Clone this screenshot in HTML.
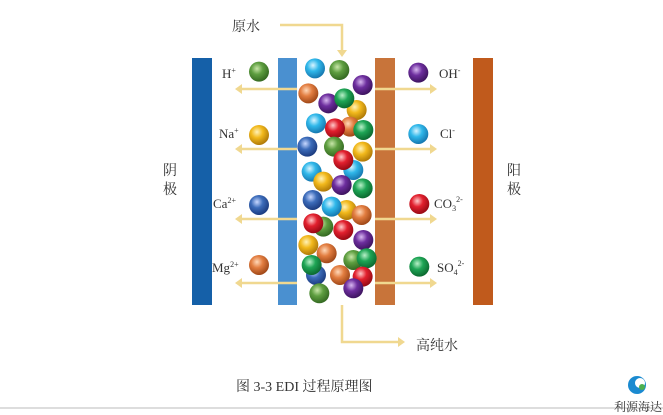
<!DOCTYPE html>
<html><head><meta charset="utf-8"><style>
body{margin:0;background:#fff;}
svg{display:block;}
text{font-family:"Liberation Serif","Noto Serif CJK SC",serif;fill:#333;}
</style></head><body>
<svg width="663" height="415" viewBox="0 0 663 415" xmlns="http://www.w3.org/2000/svg">
<defs>
<radialGradient id="cy" cx="40%" cy="35%" r="65%"><stop offset="0" stop-color="#d8f4ff"/><stop offset="0.45" stop-color="#30b8ea"/><stop offset="1" stop-color="#1678b0"/></radialGradient>
<radialGradient id="gr" cx="40%" cy="35%" r="65%"><stop offset="0" stop-color="#c8e6a8"/><stop offset="0.45" stop-color="#5e9e40"/><stop offset="1" stop-color="#356a22"/></radialGradient>
<radialGradient id="bg" cx="40%" cy="35%" r="65%"><stop offset="0" stop-color="#b8f0c8"/><stop offset="0.45" stop-color="#1ea555"/><stop offset="1" stop-color="#0c6a30"/></radialGradient>
<radialGradient id="pu" cx="40%" cy="35%" r="65%"><stop offset="0" stop-color="#d8b8f0"/><stop offset="0.45" stop-color="#6d2e9e"/><stop offset="1" stop-color="#3e1460"/></radialGradient>
<radialGradient id="or" cx="40%" cy="35%" r="65%"><stop offset="0" stop-color="#ffd8b8"/><stop offset="0.45" stop-color="#e27d40"/><stop offset="1" stop-color="#a04818"/></radialGradient>
<radialGradient id="ye" cx="40%" cy="35%" r="65%"><stop offset="0" stop-color="#fff2b8"/><stop offset="0.45" stop-color="#f2b91c"/><stop offset="1" stop-color="#b07a08"/></radialGradient>
<radialGradient id="re" cx="40%" cy="35%" r="65%"><stop offset="0" stop-color="#ffc8c8"/><stop offset="0.45" stop-color="#e2202e"/><stop offset="1" stop-color="#980a14"/></radialGradient>
<radialGradient id="bl" cx="40%" cy="35%" r="65%"><stop offset="0" stop-color="#c8d8ff"/><stop offset="0.45" stop-color="#3c6cba"/><stop offset="1" stop-color="#1c3c80"/></radialGradient>
</defs>
<!-- bars -->
<rect x="192" y="58" width="20" height="247" fill="#1560a8"/>
<rect x="278" y="58" width="19" height="247" fill="#4a90d0"/>
<rect x="375" y="58" width="20" height="247" fill="#c8743a"/>
<rect x="473" y="58" width="20" height="247" fill="#c05a1c"/>
<!-- arrows -->
<g stroke="#f0d890" stroke-width="2.5" fill="none">
<path d="M280 25 H342 V52"/>
<path d="M342 305 V342 H400"/>
<path d="M297 89 H240 M297 149 H240 M297 219 H240 M297 283 H240"/>
<path d="M375 89 H432 M375 149 H432 M375 219 H432 M375 283 H432"/>
</g>
<g fill="#f0d890">
<path d="M337 50 L347 50 L342 57 Z"/>
<path d="M398 337 L398 347 L405 342 Z"/>
<path d="M242 84 L242 94 L235 89 Z"/><path d="M242 144 L242 154 L235 149 Z"/><path d="M242 214 L242 224 L235 219 Z"/><path d="M242 278 L242 288 L235 283 Z"/>
<path d="M430 84 L430 94 L437 89 Z"/><path d="M430 144 L430 154 L437 149 Z"/><path d="M430 214 L430 224 L437 219 Z"/><path d="M430 278 L430 288 L437 283 Z"/>
</g>
<!-- balls -->
<g transform="translate(180,10) scale(0.3333)">
<circle cx="237" cy="185" r="30" fill="url(#gr)"/>
<circle cx="237" cy="375" r="30" fill="url(#ye)"/>
<circle cx="237" cy="585" r="30" fill="url(#bl)"/>
<circle cx="237" cy="765" r="30" fill="url(#or)"/>
<circle cx="715" cy="188" r="30" fill="url(#pu)"/>
<circle cx="715" cy="372" r="30" fill="url(#cy)"/>
<circle cx="718" cy="582" r="30" fill="url(#re)"/>
<circle cx="718" cy="770" r="30" fill="url(#bg)"/>
<circle cx="405" cy="175" r="30" fill="url(#cy)"/>
<circle cx="478" cy="180" r="30" fill="url(#gr)"/>
<circle cx="548" cy="225" r="30" fill="url(#pu)"/>
<circle cx="385" cy="250" r="30" fill="url(#or)"/>
<circle cx="445" cy="280" r="30" fill="url(#pu)"/>
<circle cx="530" cy="300" r="30" fill="url(#ye)"/>
<circle cx="493" cy="265" r="30" fill="url(#bg)"/>
<circle cx="408" cy="340" r="30" fill="url(#cy)"/>
<circle cx="510" cy="350" r="30" fill="url(#or)"/>
<circle cx="465" cy="355" r="30" fill="url(#re)"/>
<circle cx="550" cy="360" r="30" fill="url(#bg)"/>
<circle cx="382" cy="410" r="30" fill="url(#bl)"/>
<circle cx="462" cy="410" r="30" fill="url(#gr)"/>
<circle cx="548" cy="425" r="30" fill="url(#ye)"/>
<circle cx="520" cy="480" r="30" fill="url(#cy)"/>
<circle cx="490" cy="450" r="30" fill="url(#re)"/>
<circle cx="395" cy="485" r="30" fill="url(#cy)"/>
<circle cx="430" cy="515" r="30" fill="url(#ye)"/>
<circle cx="548" cy="535" r="30" fill="url(#bg)"/>
<circle cx="485" cy="525" r="30" fill="url(#pu)"/>
<circle cx="398" cy="570" r="30" fill="url(#bl)"/>
<circle cx="500" cy="600" r="30" fill="url(#ye)"/>
<circle cx="455" cy="590" r="30" fill="url(#cy)"/>
<circle cx="545" cy="615" r="30" fill="url(#or)"/>
<circle cx="430" cy="650" r="30" fill="url(#gr)"/>
<circle cx="400" cy="640" r="30" fill="url(#re)"/>
<circle cx="550" cy="690" r="30" fill="url(#pu)"/>
<circle cx="490" cy="660" r="30" fill="url(#re)"/>
<circle cx="385" cy="705" r="30" fill="url(#ye)"/>
<circle cx="440" cy="730" r="30" fill="url(#or)"/>
<circle cx="520" cy="750" r="30" fill="url(#gr)"/>
<circle cx="408" cy="795" r="30" fill="url(#bl)"/>
<circle cx="395" cy="765" r="30" fill="url(#bg)"/>
<circle cx="560" cy="745" r="30" fill="url(#bg)"/>
<circle cx="480" cy="795" r="30" fill="url(#or)"/>
<circle cx="548" cy="800" r="30" fill="url(#re)"/>
<circle cx="520" cy="835" r="30" fill="url(#pu)"/>
<circle cx="418" cy="850" r="30" fill="url(#gr)"/>
</g>
<!-- labels -->
<g font-size="13">
<text x="222" y="78">H<tspan font-size="8" dy="-5">+</tspan></text>
<text x="219" y="138">Na<tspan font-size="8" dy="-5">+</tspan></text>
<text x="213" y="208">Ca<tspan font-size="8" dy="-5">2+</tspan></text>
<text x="212" y="272">Mg<tspan font-size="8" dy="-5">2+</tspan></text>
<text x="439" y="78">OH<tspan font-size="8" dy="-5">-</tspan></text>
<text x="440" y="138">Cl<tspan font-size="8" dy="-5">-</tspan></text>
<text x="434" y="208">CO<tspan font-size="8" dy="3">3</tspan><tspan font-size="8" dy="-9">2-</tspan></text>
<text x="437" y="272">SO<tspan font-size="8" dy="3">4</tspan><tspan font-size="8" dy="-9">2-</tspan></text>
<text x="232" y="31" font-size="14">原水</text>
<text x="416" y="350" font-size="14">高纯水</text>
<text x="163" y="175" font-size="14">阴</text>
<text x="163" y="194" font-size="14">极</text>
<text x="507" y="175" font-size="14">阳</text>
<text x="507" y="194" font-size="14">极</text>
<text x="236" y="391" font-size="14">图 3-3 EDI 过程原理图</text>
</g>
<line x1="0" y1="408" x2="663" y2="408" stroke="#bbb" stroke-width="1"/>
<circle cx="637" cy="385" r="9" fill="#1a8ad0"/>
<circle cx="640" cy="383" r="5" fill="#fff"/>
<circle cx="642" cy="387" r="3" fill="#4bb050"/>
<text x="614" y="411" font-size="12" font-family="Liberation Sans,Noto Sans CJK SC,sans-serif" fill="#333">利源海达</text>
</svg>
</body></html>
